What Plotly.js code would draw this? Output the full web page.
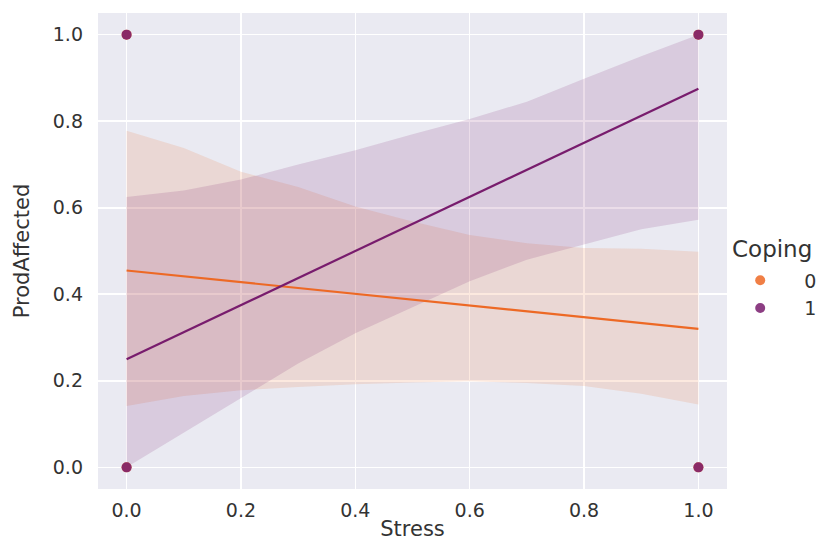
<!DOCTYPE html>
<html>
<head>
<meta charset="utf-8">
<script src="https://cdn.plot.ly/plotly-3.0.1.min.js"></script>
<style>html,body{margin:0;padding:0;background:#fff;}#chart{width:826px;height:541px;}</style>
</head>
<body>
<div id="chart"></div>
<script>
// Raw observations (binary outcome) per Coping group
var obsStress0 = [0, 0, 1, 1];
var obsProd0   = [0, 1, 0, 1];
var obsStress1 = [0, 0, 1, 1];
var obsProd1   = [0, 1, 0, 1];

// Fitted regression lines
var fitX = [0, 1];
var fitY0 = [0.455, 0.32];
var fitY1 = [0.25, 0.875];

// Confidence bands
var bandX = [0, 0.1, 0.2, 0.3, 0.4, 0.5, 0.6, 0.7, 0.8, 0.9, 1.0];
var upper0 = [0.778, 0.738, 0.683, 0.648, 0.603, 0.568, 0.537, 0.518, 0.507, 0.505, 0.498];
var lower0 = [0.142, 0.165, 0.178, 0.186, 0.192, 0.196, 0.199, 0.195, 0.188, 0.170, 0.145];
var upper1 = [0.625, 0.640, 0.665, 0.700, 0.733, 0.770, 0.805, 0.845, 0.898, 0.950, 1.000];
var lower1 = [0.000, 0.080, 0.160, 0.240, 0.310, 0.370, 0.430, 0.480, 0.515, 0.550, 0.572];

var groups = ['0', '1'];
var legendTitle = 'Coping';
var tickVals = [0, 0.2, 0.4, 0.6, 0.8, 1.0];
var tickText = ['0.0', '0.2', '0.4', '0.6', '0.8', '1.0'];
var colors = ['#ED6925', '#781C6D'];
var bandFill = ['rgba(237,105,37,0.15)', 'rgba(120,28,109,0.15)'];

function bandTrace(x, lo, hi, fill) {
  var xs = x.concat(x.slice().reverse());
  var ys = hi.concat(lo.slice().reverse());
  return {x: xs, y: ys, type: 'scatter', mode: 'lines', fill: 'toself',
          fillcolor: fill, line: {width: 0}, hoverinfo: 'skip', showlegend: false};
}

var pad = '\u00a0\u00a0\u00a0\u00a0';
var data = [
  bandTrace(bandX, lower0, upper0, bandFill[0]),
  bandTrace(bandX, lower1, upper1, bandFill[1]),
  {x: obsStress0, y: obsProd0, type: 'scatter', mode: 'markers', name: pad + groups[0],
   marker: {color: colors[0], size: 10, opacity: 0.85}},
  {x: obsStress1, y: obsProd1, type: 'scatter', mode: 'markers', name: pad + groups[1],
   marker: {color: colors[1], size: 10, opacity: 0.85}},
  {x: fitX, y: fitY0, type: 'scatter', mode: 'lines', line: {color: colors[0], width: 2.2}, showlegend: false},
  {x: fitX, y: fitY1, type: 'scatter', mode: 'lines', line: {color: colors[1], width: 2.2}, showlegend: false}
];

var layout = {
  width: 826, height: 541,
  margin: {l: 98, r: 99, t: 13, b: 52, autoexpand: false},
  paper_bgcolor: '#ffffff',
  plot_bgcolor: '#EAEAF2',
  font: {family: 'DejaVu Sans, Arial, sans-serif', color: '#333333', size: 19},
  xaxis: {
    range: [-0.05, 1.05], tickvals: tickVals, ticktext: tickText,
    showgrid: true, gridcolor: '#ffffff', gridwidth: 1.6, zeroline: false, showline: false,
    ticks: '', ticklabelstandoff: 8,
    title: {text: 'Stress', font: {size: 21, color: '#333333'}, standoff: 9}
  },
  yaxis: {
    range: [-0.05, 1.05], tickvals: tickVals, ticktext: tickText,
    showgrid: true, gridcolor: '#ffffff', gridwidth: 1.6, zeroline: false, showline: false,
    ticks: '', ticklabelstandoff: 14,
    title: {text: 'ProdAffected', font: {size: 21, color: '#333333'}, standoff: 17}
  },
  showlegend: true,
  legend: {
    x: 1.021, xanchor: 'left', y: 0.478, yanchor: 'top',
    bgcolor: 'rgba(0,0,0,0)', borderwidth: 0,
    font: {size: 19, color: '#333333'},
    itemwidth: 30, tracegroupgap: 0
  },
  annotations: [{
    text: legendTitle, xref: 'paper', yref: 'paper', x: 1.004, y: 0.504,
    xanchor: 'left', yanchor: 'middle', showarrow: false,
    font: {size: 23, color: '#333333'}
  }]
};

Plotly.newPlot('chart', data, layout, {displayModeBar: false, staticPlot: true});
</script>
</body>
</html>
